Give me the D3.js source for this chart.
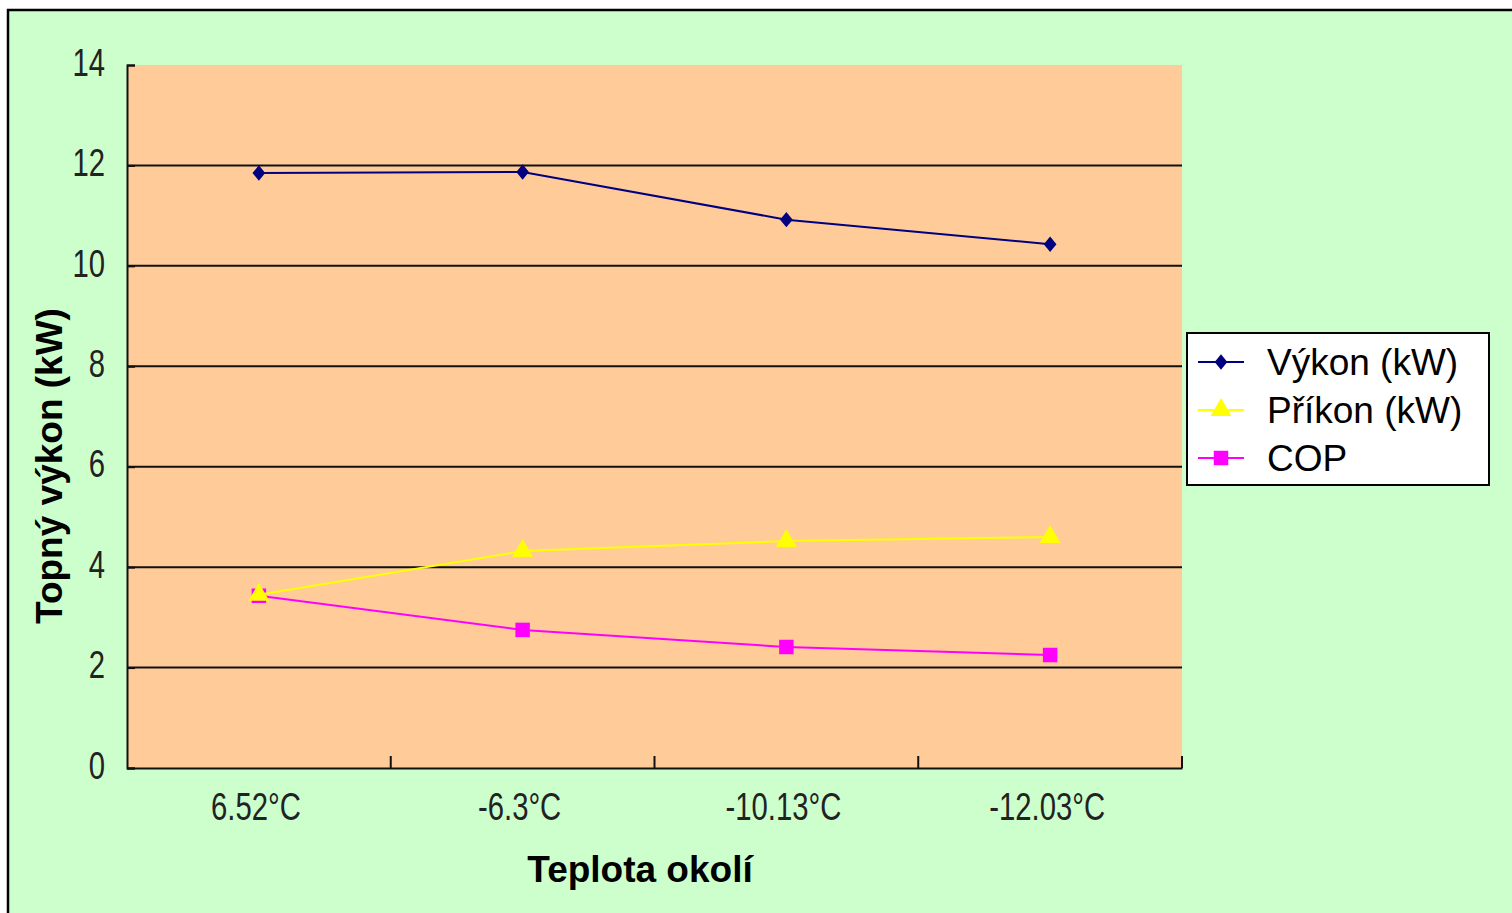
<!DOCTYPE html>
<html>
<head>
<meta charset="utf-8">
<script src="https://cdn.jsdelivr.net/npm/d3@7"></script>
<style>
  html, body { margin: 0; padding: 0; background: #fff; }
  svg { display: block; }
  .tick-label { font-family: "Liberation Sans Narrow", "Arial Narrow", "Liberation Sans", sans-serif; font-size: 38px; fill: #222; }
  .title { font-family: "Liberation Sans", Arial, sans-serif; font-weight: bold; font-size: 37px; fill: #000; }
  .legend-text { font-family: "Liberation Sans", Arial, sans-serif; font-size: 37px; fill: #000; }
</style>
</head>
<body>
<svg width="1512" height="913"></svg>
<script>
let categories = ['6.52°C', '-6.3°C', '-10.13°C', '-12.03°C'];
let vykon = [11.85, 11.87, 10.92, 10.43];
let prikon = [3.45, 4.32, 4.52, 4.6];
let cop = [3.43, 2.75, 2.41, 2.25];
let yTicks = [0, 2, 4, 6, 8, 10, 12, 14];
let seriesNames = ['Výkon (kW)', 'Příkon (kW)', 'COP'];

let svg = d3.select('svg');
let plot = { left: 127, right: 1182, top: 65, bottom: 768 };
let narrow = 0.77;

// outer chart area
svg.append('rect').attr('x', 8).attr('y', 10).attr('width', 1520).attr('height', 920)
    .attr('fill', '#ccffcc').attr('stroke', '#000').attr('stroke-width', 2.5);

let x = d3.scaleBand().domain(categories).range([plot.left, plot.right]);
let y = d3.scaleLinear().domain([0, 14]).range([plot.bottom, plot.top]);

svg.append('rect')
    .attr('x', plot.left).attr('y', plot.top)
    .attr('width', plot.right - plot.left).attr('height', plot.bottom - plot.top)
    .attr('fill', '#ffcc99');

// gridlines
svg.append('g').selectAll('line')
    .data(yTicks.filter(d => d > 0 && d < 14))
    .enter().append('line')
    .attr('x1', plot.left).attr('x2', plot.right)
    .attr('y1', d => y(d)).attr('y2', d => y(d))
    .attr('stroke', '#111').attr('stroke-width', 2);

// y axis
let yAxis = svg.append('g').attr('transform', `translate(${plot.left},0)`)
    .call(d3.axisRight(y).tickValues(yTicks).tickSize(8).tickFormat(''));
yAxis.select('.domain').attr('stroke', '#111').attr('stroke-width', 2);
yAxis.selectAll('.tick line').attr('stroke', '#111').attr('stroke-width', 2);

svg.append('g').selectAll('text')
    .data(yTicks).enter().append('text')
    .attr('class', 'tick-label')
    .attr('transform', d => `translate(105,${y(d) - 3}) scale(${narrow},1)`)
    .attr('dy', '0.36em')
    .attr('text-anchor', 'end')
    .text(d => d);

// x axis
let xAxis = svg.append('g').attr('transform', `translate(0,${plot.bottom})`)
    .call(d3.axisTop(x).tickValues([]).tickSizeOuter(0));
xAxis.select('.domain').attr('stroke', '#111').attr('stroke-width', 2);
svg.append('g').selectAll('line')
    .data(categories).enter().append('line')
    .attr('x1', d => x(d) + x.bandwidth()).attr('x2', d => x(d) + x.bandwidth())
    .attr('y1', plot.bottom).attr('y2', plot.bottom - 12)
    .attr('stroke', '#111').attr('stroke-width', 2);

svg.append('g').selectAll('text')
    .data(categories).enter().append('text')
    .attr('class', 'tick-label')
    .attr('transform', d => `translate(${x(d) + x.bandwidth() / 2 - 3},806) scale(${narrow},1)`)
    .attr('dy', '0.36em')
    .attr('text-anchor', 'middle')
    .text(d => d);

// titles
svg.append('text').attr('class', 'title')
    .attr('x', 640).attr('y', 869).attr('dy', '0.36em').attr('text-anchor', 'middle')
    .text('Teplota okolí');
svg.append('text').attr('class', 'title')
    .attr('transform', 'translate(49,466) rotate(-90)').attr('dy', '0.36em').attr('text-anchor', 'middle')
    .text('Topný výkon (kW)');

let cx = d => x(d) + x.bandwidth() / 2;
let line = d3.line().x(d => cx(d.c)).y(d => y(d.v));

let series = [
    { name: seriesNames[0], values: vykon, color: '#000080', shape: d3.symbolDiamond, size: 140 },
    { name: seriesNames[1], values: prikon, color: '#ffff00', shape: d3.symbolTriangle, size: 190 },
    { name: seriesNames[2], values: cop, color: '#ff00ff', shape: d3.symbolSquare, size: 210 }
];
let squash = s => s.shape === d3.symbolDiamond ? ' scale(1,0.7)' : '';

series.slice().reverse().forEach(s => {
    let pts = s.values.map((v, i) => ({ c: categories[i], v: v }));
    svg.append('path').datum(pts)
        .attr('d', line).attr('fill', 'none')
        .attr('stroke', s.color).attr('stroke-width', 2);
    svg.append('g').selectAll('path')
        .data(pts).enter().append('path')
        .attr('d', d3.symbol().type(s.shape).size(s.size))
        .attr('transform', d => `translate(${cx(d.c)},${y(d.v)})` + squash(s))
        .attr('fill', s.color);
});

// legend
let legend = svg.append('g');
legend.append('rect').attr('x', 1187).attr('y', 333).attr('width', 302).attr('height', 152)
    .attr('fill', '#fff').attr('stroke', '#000').attr('stroke-width', 2);
series.forEach((s, i) => {
    let ly = 362 + i * 48;
    legend.append('line').attr('x1', 1198).attr('x2', 1244).attr('y1', ly).attr('y2', ly)
        .attr('stroke', s.color).attr('stroke-width', 2);
    legend.append('path')
        .attr('d', d3.symbol().type(s.shape).size(s.size))
        .attr('transform', `translate(1221,${ly})` + squash(s))
        .attr('fill', s.color);
    legend.append('text').attr('class', 'legend-text')
        .attr('x', 1267).attr('y', ly).attr('dy', '0.36em')
        .text(s.name);
});
</script>
</body>
</html>
